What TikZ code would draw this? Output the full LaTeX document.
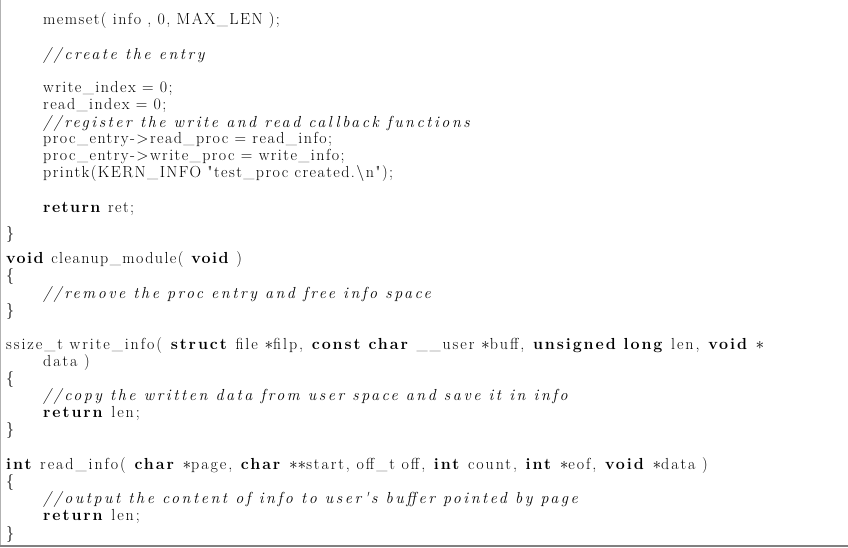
\documentclass[tikz,border=0pt]{standalone}
\usepackage{fontspec}
\newfontfamily\cf[LetterSpace=9]{Latin Modern Roman}
\newcommand{\kw}[1]{\textbf{#1}}
\newcommand{\cm}[1]{{\itshape\addfontfeature{LetterSpace=16}#1}}
\newcommand{\wide}{\addfontfeature{LetterSpace=12}}
\newcommand{\us}{\_}
\begin{document}
\begin{tikzpicture}[x=1pt,y=-1pt,
  ln/.style={anchor=base west,inner sep=0pt,font=\fontsize{16}{18}\cf},
  lw/.style={ln,font=\fontsize{16}{18}\cf\wide}]
\useasboundingbox (0,0) rectangle (848,548);
\draw[gray!60,line width=1pt] (0.5,0) -- (0.5,545);
\draw[gray,line width=1.5pt] (0,546) -- (848,546);
\node[ln] (l1) at (43,25) {memset( info , 0, MAX\us LEN );};
\node[ln] (l2) at (43,60) {\cm{//create the entry}};
\node[ln] (l3) at (43,93) {write\us index = 0;};
\node[ln] (l4) at (43,110) {read\us index = 0;};
\node[ln] (l5) at (43,128) {\cm{//register the write and read callback functions}};
\node[ln] (l6) at (43,144) {proc\us entry{-}{>}read\us proc = read\us info;};
\node[ln] (l7) at (43,161) {proc\us entry{-}{>}write\us proc = write\us info;};
\node[ln] (l8) at (43,178) {printk(KERN\us INFO \symbol{34}test\us proc created.\textbackslash n\symbol{34});};
\node[ln] (l9) at (43,212) {\kw{return} ret;};
\node[ln] (l10) at (6,238) {\}};
\node[ln] (l11) at (6,263) {\kw{void} cleanup\us module( \kw{void} )};
\node[ln] (l12) at (6,280) {\{};
\node[ln] (l13) at (43,298) {\cm{//remove the proc entry and free info space}};
\node[ln] (l14) at (6,315) {\}};
\node[lw] (l15) at (6,349) {ssize\us t write\us info( \kw{struct} file $\ast$filp, \kw{const char} \us\us user $\ast$buff, \kw{unsigned long} len, \kw{void} $\ast$};
\node[lw] (l16) at (43,366) {data )};
\node[lw] (l17) at (6,383) {\{};
\node[lw] (l18) at (43,400) {\cm{//copy the written data from user space and save it in info}};
\node[lw] (l19) at (43,417) {\kw{return} len;};
\node[lw] (l20) at (6,434) {\}};
\node[lw] (l21) at (6,469) {\kw{int} read\us info( \kw{char} $\ast$page, \kw{char} $\ast\ast$start, off\us t off, \kw{int} count, \kw{int} $\ast$eof, \kw{void} $\ast$data )};
\node[lw] (l22) at (6,486) {\{};
\node[lw] (l23) at (43,503) {\cm{//output the content of info to user's buffer pointed by page}};
\node[lw] (l24) at (43,520) {\kw{return} len;};
\node[lw] (l25) at (6,538) {\}};
\end{tikzpicture}
\end{document}
